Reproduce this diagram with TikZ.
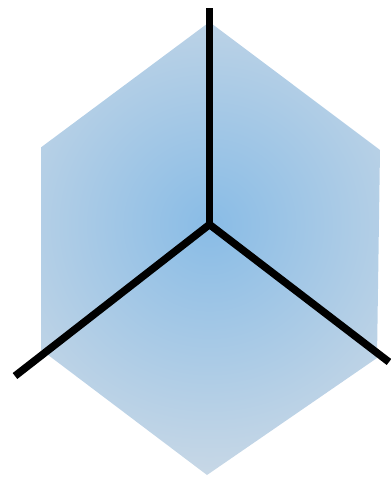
\documentclass[tikz,border=0pt]{standalone}
\usepackage{tikz}

\definecolor{hexblue}{RGB}{137,188,230}
\definecolor{hexgray}{RGB}{214,222,230}

\begin{document}
\begin{tikzpicture}[x=1pt, y=-1pt]

\useasboundingbox (0,0) rectangle (391,477);

% Corner in the middle and hexagon vertices
\coordinate (C)  at (209.5,224.5);   % centre
\coordinate (T)  at (209.5,22);      % top
\coordinate (UL) at (41.5,147);      % upper left
\coordinate (LL) at (41.5,350);      % lower left
\coordinate (B)  at (207,475);       % bottom
\coordinate (LR) at (377,358);       % lower right
\coordinate (UR) at (380,150);       % upper right

% Free ends of the three edges
\coordinate (Tend)  at (209.5,8);
\coordinate (LLend) at (15,376);
\coordinate (LRend) at (389,362);

% Shaded hexagon, light towards the rim
\begin{scope}
    \clip (T) -- (UL) -- (LL) -- (B) -- (LR) -- (UR) -- cycle;
    \shade[inner color=hexblue, outer color=hexgray] (C) circle (310);
\end{scope}

% Draw the three edges from the corner
\foreach \p in {Tend,LLend,LRend} {
    \draw[line width=7.5pt, line join=miter] (C) -- (\p);
}
\end{tikzpicture}
\end{document}
